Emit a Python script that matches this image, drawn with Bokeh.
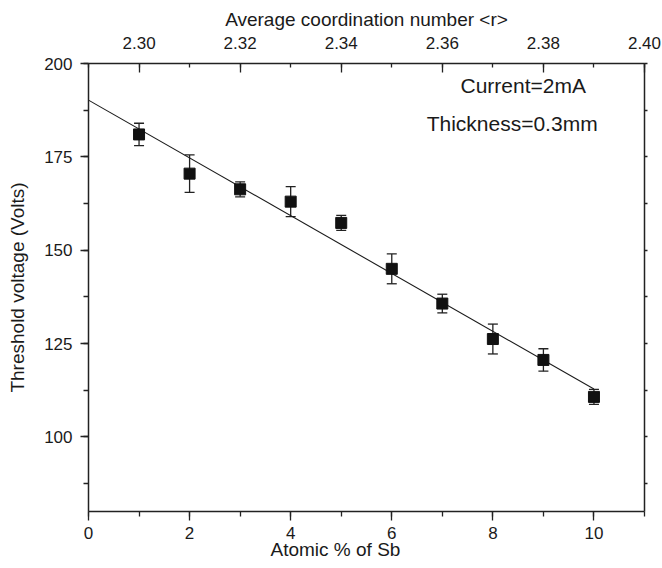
import numpy as np
from bokeh.plotting import figure
from bokeh.models import (Range1d, LinearAxis, SingleIntervalTicker, Whisker,
                          ColumnDataSource, Label, Title, PrintfTickFormatter, TeeHead)
from bokeh.embed import file_html
from bokeh.resources import INLINE

# ---- data ----
sb_pct = [1, 2, 3, 4, 5, 6, 7, 8, 9, 10]
threshold_v = [181.0, 170.5, 166.3, 163.0, 157.3, 145.0, 135.7, 126.2, 120.6, 110.7]
err_v = [3.0, 5.0, 2.0, 4.0, 2.0, 4.0, 2.5, 4.0, 3.0, 2.0]
r_at_zero = 2.29      # average coordination number at 0 % Sb
r_per_pct = 0.01      # change of <r> per atomic % Sb
x_lim = [0, 11]
y_lim = [80, 200]
fit_span = [0, 10]

FONT = "Liberation Sans"
INK = "#1a1a1a"

src = ColumnDataSource(dict(
    x=sb_pct, y=threshold_v,
    lo=[v - e for v, e in zip(threshold_v, err_v)],
    hi=[v + e for v, e in zip(threshold_v, err_v)],
))

coef = np.polyfit(sb_pct, threshold_v, 1)
fit_y = list(np.polyval(coef, fit_span))

p = figure(width=662, height=568, output_backend="svg", toolbar_location=None,
           x_range=Range1d(*x_lim), y_range=Range1d(*y_lim),
           min_border_left=88, min_border_right=18, min_border_top=63, min_border_bottom=57)
p.outline_line_color = None
p.grid.visible = False
p.background_fill_color = "white"
p.border_fill_color = "white"

# fitted line
p.line(fit_span, fit_y, line_color=INK, line_width=1.1)

# error bars
wh = Whisker(source=src, base="x", lower="lo", upper="hi",
             line_color="#222222", line_width=1.3,
             upper_head=TeeHead(size=10, line_color="#222222", line_width=1.3),
             lower_head=TeeHead(size=10, line_color="#222222", line_width=1.3))
p.add_layout(wh)

p.scatter("x", "y", source=src, marker="square", size=11,
          fill_color="#111111", line_color="#111111")

# ---- axes ----
def style(ax):
    ax.axis_line_color = "#222222"
    ax.axis_line_width = 1.5
    ax.major_tick_line_color = "#222222"
    ax.minor_tick_line_color = "#222222"
    ax.major_tick_line_width = 1.3
    ax.minor_tick_line_width = 1.3
    ax.major_label_text_font = FONT
    ax.major_label_text_font_size = "17px"
    ax.major_label_text_color = INK
    ax.axis_label_text_font = FONT
    ax.axis_label_text_font_size = "19px"
    ax.axis_label_text_font_style = "normal"
    ax.axis_label_text_color = INK

xa = p.xaxis[0]
xa.ticker = SingleIntervalTicker(interval=2, num_minor_ticks=2)
style(xa)
xa.major_tick_in = 0
xa.major_tick_out = 9
xa.minor_tick_in = 0
xa.minor_tick_out = 5
xa.major_label_standoff = 6

ya = p.yaxis[0]
ya.ticker = SingleIntervalTicker(interval=25, num_minor_ticks=2)
style(ya)
ya.major_tick_in = 0
ya.major_tick_out = 8
ya.minor_tick_in = 0
ya.minor_tick_out = 5
ya.major_label_standoff = 8
ya.axis_label = "Threshold voltage (Volts)"
ya.axis_label_standoff = 13

# x label, slightly left of centre as in the reference
p.add_layout(Title(text="Atomic % of  Sb", align="left", offset=182,
                   text_font=FONT, text_font_size="19px", text_font_style="normal",
                   text_color=INK, standoff=-10), "below")

# top axis: average coordination number
p.extra_x_ranges = {"r": Range1d(r_at_zero + r_per_pct * x_lim[0],
                                 r_at_zero + r_per_pct * x_lim[1] + 1e-6)}
top = LinearAxis(x_range_name="r", axis_label="Average coordination number <r>",
                 ticker=SingleIntervalTicker(interval=0.02, num_minor_ticks=2),
                 formatter=PrintfTickFormatter(format="%.2f"))
style(top)
top.major_tick_in = 9
top.major_tick_out = 0
top.minor_tick_in = 4
top.minor_tick_out = 0
top.major_label_standoff = 15
top.axis_label_standoff = 4
p.add_layout(top, "above")

# right axis: ticks only, no labels
right = LinearAxis(ticker=SingleIntervalTicker(interval=12.5, num_minor_ticks=0))
style(right)
right.major_tick_in = 0
right.major_tick_out = 3
right.minor_tick_out = 0
right.major_label_text_font_size = "1px"
right.major_label_text_color = None
right.major_label_standoff = 0
p.add_layout(right, "right")

# annotations
p.add_layout(Label(x=7.36, y=190.9, text="Current=2mA", text_font=FONT,
                   text_font_size="21px", text_color=INK))
p.add_layout(Label(x=6.69, y=180.9, text="Thickness=0.3mm", text_font=FONT,
                   text_font_size="21px", text_color=INK))

open("out.html", "w").write(file_html(p, INLINE))
